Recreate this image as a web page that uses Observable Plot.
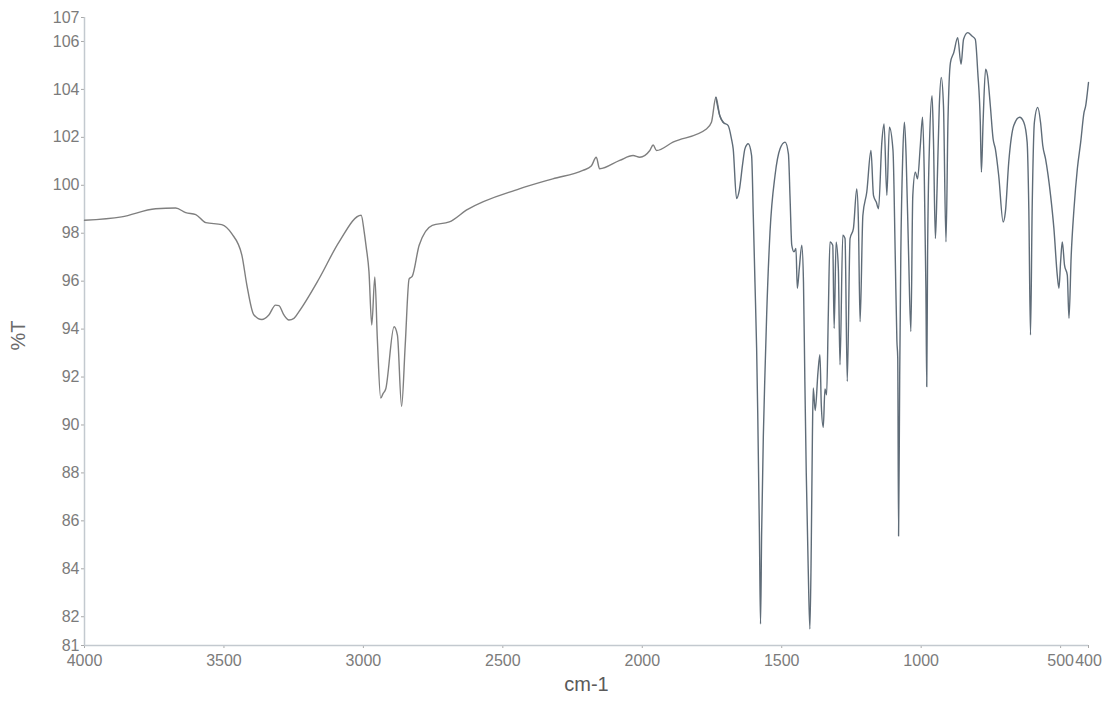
<!DOCTYPE html>
<html>
<head>
<meta charset="utf-8">
<script src="https://cdn.jsdelivr.net/npm/d3@7"></script>
<script src="https://cdn.jsdelivr.net/npm/@observablehq/plot@0.6"></script>
<style>
  html, body { margin: 0; padding: 0; background: #ffffff; }
  #chart svg { display: block; }
</style>
</head>
<body>
<div id="chart"></div>
<script>
// IR transmittance spectrum, wavenumber (cm-1) against %T
const wavenumbers = [
  4000, 3867, 3745, 3673, 3637, 3601, 3565, 3508, 3472, 3436, 3418, 3393, 3364, 3339, 3315, 3303,
  3285, 3267, 3249, 3231, 3159, 3087, 3008, 2997, 2990, 2980, 2970, 2959, 2950, 2938, 2930, 2920,
  2890, 2878, 2863, 2850, 2836, 2825, 2800, 2753, 2692, 2631, 2441, 2321, 2213, 2183, 2165, 2153,
  2081, 2033, 2009, 1973, 1961, 1949, 1890, 1770, 1752, 1736, 1722, 1710, 1692, 1680, 1674, 1662,
  1652, 1640, 1632, 1620, 1608, 1602, 1596, 1590, 1586, 1580, 1576, 1572, 1566, 1560, 1554, 1542,
  1524, 1506, 1488, 1476, 1470, 1464, 1456, 1449, 1444, 1437, 1428, 1422, 1417, 1412, 1405, 1399,
  1394, 1390, 1387, 1380, 1370, 1363, 1358, 1351, 1345, 1339, 1333, 1327, 1317, 1312, 1305, 1297,
  1291, 1281, 1273, 1265, 1255, 1243, 1231, 1225, 1219, 1209, 1195, 1180, 1171, 1161, 1153, 1141,
  1133, 1123, 1114, 1101, 1093, 1087, 1084, 1081, 1077, 1073, 1066, 1060, 1054, 1045, 1037, 1030,
  1021, 1013, 1003, 995, 989, 983, 980, 977, 970, 961, 956, 949, 943, 935, 928, 920,
  911, 904, 895, 883, 869, 857, 848, 833, 818, 806, 797, 788, 784, 778, 769, 762,
  752, 742, 734, 722, 706, 698, 686, 668, 647, 632, 620, 614, 608, 602, 594, 582,
  572, 564, 554, 536, 524, 512, 506, 500, 494, 486, 476, 470, 462, 452, 440, 428,
  416, 410, 404, 400
];
const transmittance = [
  98.54, 98.68, 99.02, 99.05, 98.86, 98.78, 98.44, 98.36, 97.98, 97.10, 95.85, 94.60, 94.40, 94.59, 95.00, 94.98,
  94.59, 94.38, 94.45, 94.73, 96.10, 97.64, 98.75, 98.05, 97.43, 96.40, 94.17, 96.18, 93.60, 91.12, 91.30, 91.50,
  94.10, 93.75, 90.78, 93.34, 96.10, 96.20, 97.50, 98.33, 98.47, 98.96, 99.85, 100.27, 100.62, 100.80, 101.17, 100.69,
  101.04, 101.24, 101.17, 101.45, 101.68, 101.45, 101.80, 102.35, 102.63, 103.67, 102.90, 102.63, 102.49, 101.93, 101.52, 99.45,
  99.80, 100.90, 101.52, 101.73, 101.24, 98.75, 95.97, 93.20, 90.50, 85.50, 81.70, 85.50, 89.50, 92.20, 94.59, 98.05,
  100.41, 101.52, 101.80, 101.31, 99.44, 97.50, 97.22, 97.36, 95.70, 96.53, 97.50, 95.97, 91.80, 88.00, 84.00, 81.49,
  85.00, 89.50, 91.54, 90.60, 92.20, 92.93, 90.80, 89.90, 91.50, 91.26, 94.59, 97.64, 97.50, 94.03, 97.64, 96.53,
  92.51, 97.92, 97.78, 91.82, 97.78, 98.19, 99.85, 98.47, 94.31, 98.75, 99.72, 101.45, 99.58, 99.30, 99.02, 101.80,
  102.56, 99.58, 102.42, 101.45, 97.08, 93.50, 92.80, 85.37, 92.00, 97.08, 101.24, 102.63, 101.24, 97.08, 93.90, 99.58,
  100.55, 100.27, 101.66, 102.84, 100.55, 95.70, 91.60, 97.08, 101.80, 103.74, 101.93, 97.78, 99.85, 103.32, 104.50, 103.32,
  97.64, 102.63, 105.12, 105.54, 106.16, 105.05, 106.09, 106.37, 106.23, 106.09, 104.71, 102.63, 100.55, 102.63, 104.84, 104.57,
  103.32, 101.93, 101.52, 100.41, 98.47, 98.89, 100.96, 102.49, 102.84, 102.63, 101.80, 99.02, 93.76, 99.02, 102.63, 103.25,
  102.63, 101.66, 101.10, 99.58, 98.19, 96.25, 95.70, 96.81, 97.64, 96.67, 96.25, 94.45, 97.08, 99.02, 100.69, 101.80,
  103.04, 103.32, 103.87, 104.29
];

// Axis ticks
const xTicks = [4000, 3500, 3000, 2500, 2000, 1500, 1000, 500, 400];
const yMin = 80.8;
const yMax = 107;
// the lowest tick sits on the axis minimum and is printed rounded
const yTicks = [yMin, 82, 84, 86, 88, 90, 92, 94, 96, 98, 100, 102, 104, 106, 107];

const xLabel = "cm-1";
const yLabel = "%T";

const spectrum = wavenumbers.map((w, i) => ({wn: w, t: transmittance[i]}));
const split = 1700;
const highRange = spectrum.filter(d => d.wn >= split);
const fingerprint = spectrum.filter(d => d.wn <= split + 40);

const chart = Plot.plot({
  width: 1115,
  height: 714,
  marginLeft: 84,
  marginRight: 27,
  marginTop: 17,
  marginBottom: 69,
  style: {
    fontFamily: "'Liberation Sans', Arial, sans-serif",
    fontSize: "16px",
    color: "#7b7b7b",
    background: "#ffffff"
  },
  x: {domain: [4000, 400]},
  y: {domain: [yMin, yMax]},
  marks: [
    Plot.axisX(xTicks, {
      tickSize: 3, tickPadding: 6, stroke: "#a9a9a9",
      fill: "#7b7b7b", fontSize: 16, label: null,
      tickFormat: d3.format("d")
    }),
    Plot.axisY(yTicks, {
      tickSize: 3, tickPadding: 2, stroke: "#a9a9a9",
      fill: "#7b7b7b", fontSize: 16, label: null,
      tickFormat: d3.format(".0f")
    }),
    Plot.ruleX([4000], {stroke: "#c3c9cf", strokeWidth: 1.5}),
    Plot.ruleY([yMin], {stroke: "#c3c9cf", strokeWidth: 1.5}),
    Plot.line(highRange, {
      x: "wn", y: "t", stroke: "#7f7f7f", strokeWidth: 1.4, curve: "monotone-x"
    }),
    Plot.line(fingerprint, {
      x: "wn", y: "t", stroke: "#5f6c78", strokeWidth: 1.4, curve: "monotone-x"
    }),
    Plot.text([xLabel], {
      text: d => d, frameAnchor: "bottom", dy: 45,
      fontSize: 20, fill: "#5a5a5a"
    }),
    Plot.text([yLabel], {
      text: d => d, frameAnchor: "left", dx: -66, dy: 19,
      rotate: -90, fontSize: 20, fill: "#6a6a6a"
    })
  ]
});

document.getElementById("chart").appendChild(chart);
</script>
</body>
</html>
